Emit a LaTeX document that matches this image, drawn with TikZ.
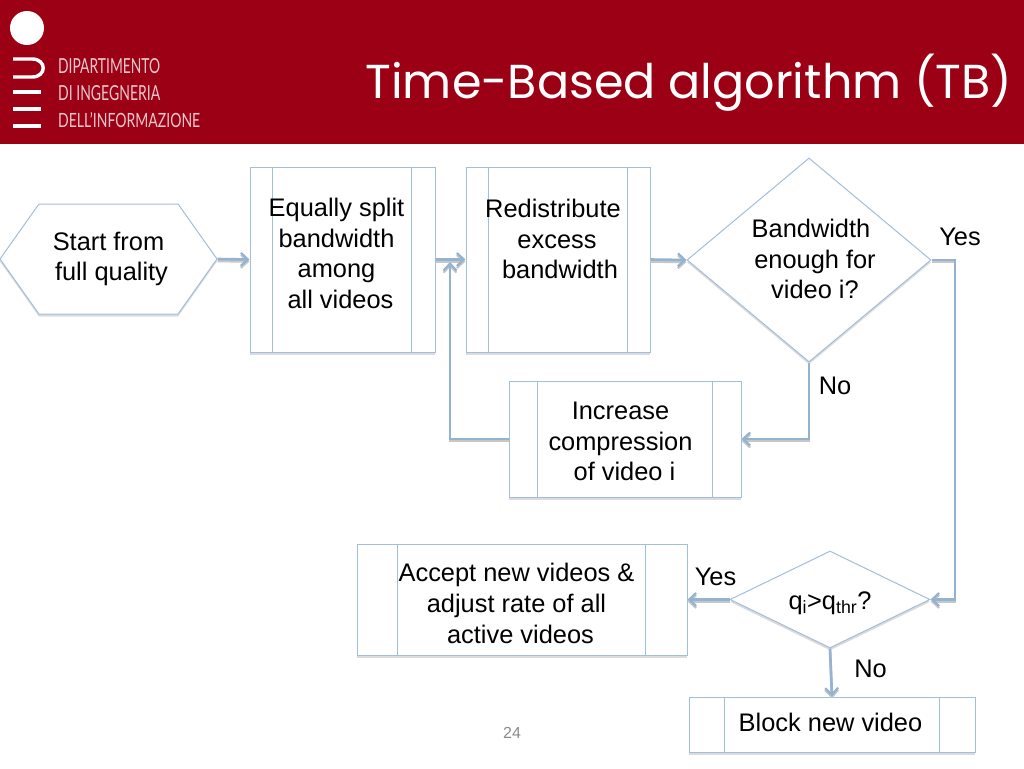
\documentclass[tikz,border=0pt]{standalone}
\usepackage{fontspec}
\usepackage{graphicx}
\setmainfont{Liberation Sans}
\newfontfamily\titlefont{Poppins}
\newfontfamily\logofont{Lato}
\usetikzlibrary{arrows.meta,shapes.geometric,shapes.symbols,shadows}
\definecolor{headred}{HTML}{9C0014}
\definecolor{edgeblue}{HTML}{A3BEDA}
\definecolor{wireblue}{HTML}{93B3D1}
\definecolor{logotext}{HTML}{EBC8CD}
\tikzset{
  x=1pt,y=-1pt,
  softshadow/.style={drop shadow={shadow xshift=0pt,shadow yshift=-2.5pt,fill=black,opacity=.14}},
  procbox/.style={draw=edgeblue,line width=1pt,fill=white,softshadow,inner sep=0pt,minimum width=#1},
  hexbox/.style={signal,signal to=east and west,signal pointer angle=109.4,draw=edgeblue,line width=1pt,fill=white,softshadow,inner sep=0pt,minimum width=217pt,minimum height=110pt},
  decision/.style={diamond,draw=edgeblue,line width=1pt,fill=white,softshadow,inner sep=0pt},
  innerline/.style={draw=edgeblue,line width=1pt},
  body/.style={font=\fontsize{25.4pt}{30.7pt}\selectfont,align=center,text=black,inner sep=0pt},
  wire/.style={draw=wireblue,line width=2.6pt,-{Straight Barb[length=7pt,width=13pt,line width=2.2pt]},
    preaction={draw=black!22,line width=2.6pt,transform canvas={yshift=-2pt}}},
  logobar/.style={draw=white,line width=3.4pt},
  logolabel/.style={text=logotext,inner sep=0pt,anchor=west,font=\logofont},
}
\newcommand{\insetlines}[3]{%
  \draw[innerline] ([xshift=#2pt]#1.north west) -- ([xshift=#2pt]#1.south west);
  \draw[innerline] ([xshift=-#3pt]#1.north east) -- ([xshift=-#3pt]#1.south east);}
\begin{document}
\begin{tikzpicture}
\useasboundingbox (0,0) rectangle (1024,768);
\fill[white] (0,0) rectangle (1024,768);
\fill[headred] (0,0) rectangle (1024,143.5);
% logo
\fill[white] (27,28) circle (17);
\draw[logobar] (13,59) -- (32,59) .. controls (47,59) and (47,77) .. (32,77) -- (13,77);
\draw[logobar] (13,92) -- (41,92);
\draw[logobar] (13,109) -- (41,109);
\draw[logobar] (13,126) -- (41,126);
\node[logolabel] (logoa) at (58,66) {\resizebox{102pt}{15pt}{DIPARTIMENTO}};
\node[logolabel] (logob) at (58,93) {\resizebox{102pt}{15pt}{DI INGEGNERIA}};
\node[logolabel] (logoc) at (58,120) {\resizebox{142pt}{15pt}{DELL’INFORMAZIONE}};
\node[text=white,inner sep=0pt] (title) at (689,83) {\resizebox{647pt}{!}{\titlefont Time-Based algorithm (TB)}};
% shapes
\node[hexbox] (start) at (108.5,259) {};
\node[procbox=185pt,minimum height=185pt] (split) at (342.5,259.5) {};
\node[procbox=184pt,minimum height=185pt] (redis) at (558,259.5) {};
\node[procbox=232pt,minimum height=116pt] (incr) at (625,439) {};
\node[procbox=330pt,minimum height=111pt] (accept) at (522,599.5) {};
\node[procbox=286pt,minimum height=55pt] (block) at (832,724.5) {};
\node[decision,minimum width=244pt,minimum height=204pt] (enough) at (809,260) {};
\node[decision,minimum width=200pt,minimum height=97pt] (thr) at (830,599.5) {};
\insetlines{split}{23}{24}
\insetlines{redis}{23}{23}
\insetlines{incr}{29}{29}
\insetlines{accept}{41}{42}
\insetlines{block}{35.5}{36}
% texts
\node[body] (tstart) at (108.5,259) {Start from\\\hspace{6pt}full quality};
\node[body] (tsplit) at (336.5,253.5) {Equally split\\bandwidth\\among\\\hspace{8pt}all videos};
\node[body] (tredis) at (557,239) {\hspace{-8pt}Redistribute\\excess\\\hspace{6pt}bandwidth};
\node[body] (tincr) at (620.5,441.5) {Increase\\compression\\\hspace{8pt}of video i};
\node[body] (taccept) at (516.5,603.5) {Accept new videos \&\\adjust rate of all\\\hspace{8pt}active videos};
\node[body] (tblock) at (830.5,722) {Block new video};
\node[body] (tenough) at (815,259) {\hspace{-8pt}Bandwidth\\enough for\\video i?};
\node[body] (tthr) at (830,603) {q\textsubscript{i}>q\textsubscript{thr}?};
\node[body] (yesa) at (960,237) {Yes};
\node[body] (noa) at (835,385.5) {No};
\node[body] (yesb) at (715.5,577) {Yes};
\node[body] (nob) at (870.5,669) {No};
\node[text=black!45,font=\fontsize{16pt}{18pt}\selectfont,inner sep=0pt] (page) at (512,733) {24};
% connectors
\coordinate (merge) at (450,262);
\coordinate (bendr) at (955,260);
\draw[wire] (start.east) -- (split.west);
\draw[wire] (split.east) -- (redis.west);
\draw[wire] (redis.east) -- (enough.west);
\draw[wire] (enough.south) |- (incr.east);
\draw[wire] (incr.west) -| (merge);
\draw[wire] (enough.east) -- (bendr) |- (thr.east);
\draw[wire] (thr.west) -- (accept.east);
\draw[wire] (thr.south) -- (block.north);
\end{tikzpicture}
\end{document}
